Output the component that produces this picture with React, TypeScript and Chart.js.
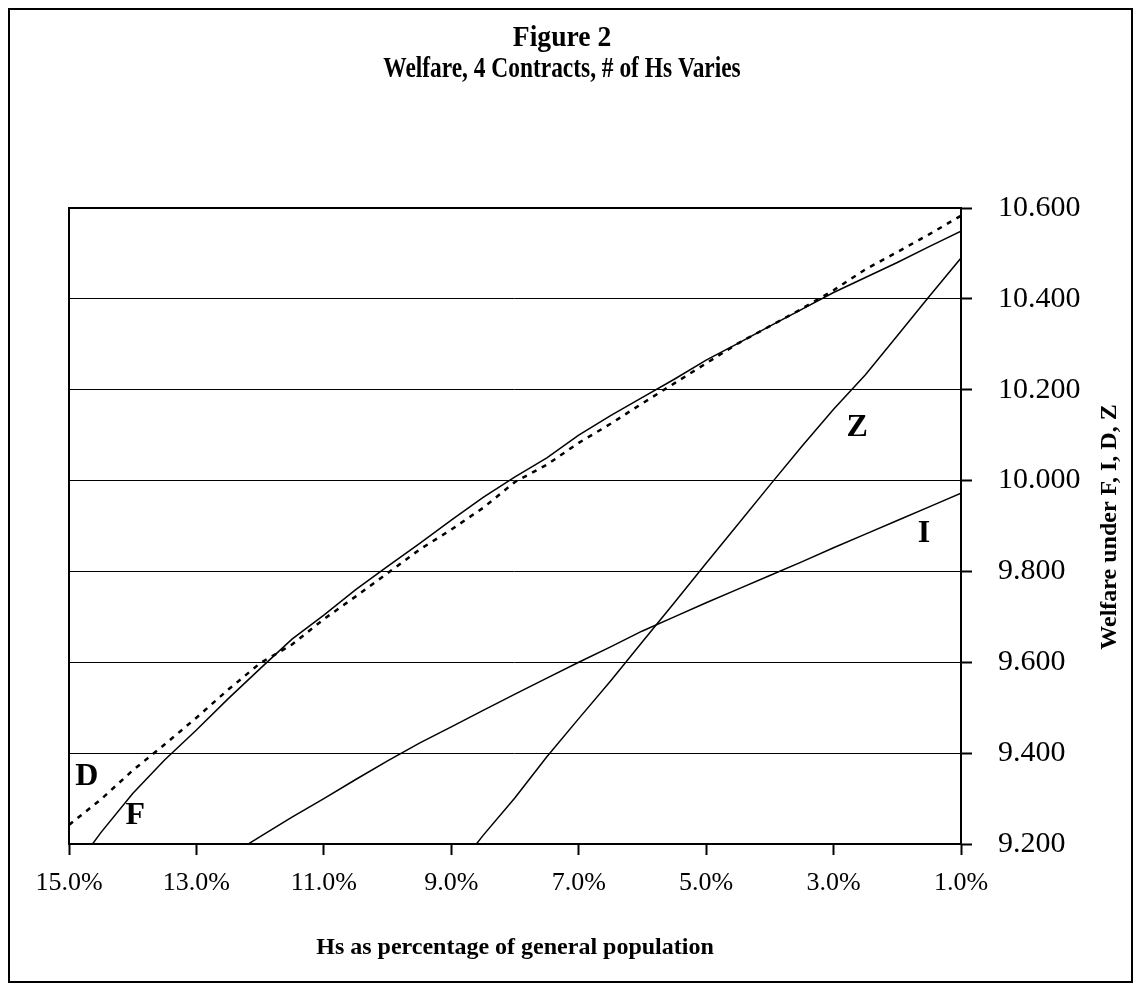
import React, { useEffect, useRef } from "react";
import { Chart, registerables } from "chart.js";

Chart.register(...registerables);

const FONT = '"Liberation Serif", "Times New Roman", serif';

// Hs as percentage of general population (x values)
const pct = [15, 14.5, 14, 13.5, 13, 12.5, 12, 11.5, 11, 10.5, 10, 9.5, 9, 8.5, 8, 7.5, 7, 6.5, 6, 5.5, 5, 4.5, 4, 3.5, 3, 2.5, 2, 1.5, 1];

// Welfare under F (solid)
const welfareF = [9.13, 9.225, 9.311, 9.385, 9.451, 9.52, 9.586, 9.651, 9.704, 9.76, 9.811, 9.861, 9.913, 9.963, 10.008, 10.05, 10.1, 10.143, 10.183, 10.223, 10.265, 10.302, 10.34, 10.377, 10.414, 10.447, 10.48, 10.515, 10.549];

// Welfare under D (dashed)
const welfareD = [9.242, 9.298, 9.362, 9.419, 9.478, 9.54, 9.598, 9.639, 9.695, 9.745, 9.796, 9.848, 9.892, 9.94, 9.997, 10.035, 10.083, 10.125, 10.17, 10.214, 10.258, 10.302, 10.34, 10.378, 10.419, 10.465, 10.503, 10.542, 10.583];

// Welfare under I (solid)
const welfareI = [8.955, 9.0, 9.043, 9.086, 9.13, 9.173, 9.216, 9.259, 9.3, 9.342, 9.383, 9.422, 9.458, 9.494, 9.53, 9.565, 9.6, 9.634, 9.669, 9.7, 9.731, 9.761, 9.791, 9.821, 9.852, 9.882, 9.912, 9.942, 9.972];

// Welfare under Z (solid)
const welfareZ = [null, null, null, null, null, null, null, null, null, null, null, null, 9.13, 9.219, 9.302, 9.392, 9.476, 9.559, 9.645, 9.731, 9.818, 9.904, 9.99, 10.075, 10.157, 10.233, 10.319, 10.405, 10.49];

// Curve labels and where they sit (data coordinates)
const curveLabels = ["D", "F", "Z", "I"];
const labelX = [14.72, 13.96, 2.63, 1.58];
const labelY = [9.347, 9.262, 10.116, 9.884];

const titleLines = ["Figure 2", "Welfare, 4 Contracts, # of Hs Varies"];
const xTitle = "Hs as percentage of general population";
const yTitle = "Welfare under F, I, D, Z";

function condensedText(ctx: any, text: string, x: number, y: number, sx: number) {
  ctx.save();
  ctx.translate(x, y);
  ctx.scale(sx, 1);
  ctx.fillText(text, 0, 0);
  ctx.restore();
}

const decor = {
  id: "decor",
  afterDatasetsDraw(chart: any) {
    const { ctx, chartArea: a, scales } = chart;
    ctx.save();
    ctx.strokeStyle = "#000";
    ctx.lineWidth = 2;
    ctx.strokeRect(a.left, a.top, a.right - a.left, a.bottom - a.top);
    ctx.fillStyle = "#000";
    ctx.font = `bold 32px ${FONT}`;
    ctx.textAlign = "center";
    ctx.textBaseline = "middle";
    curveLabels.forEach((t, i) => {
      ctx.fillText(t, scales.x.getPixelForValue(labelX[i]), scales.y.getPixelForValue(labelY[i]));
    });
    ctx.restore();
  },
  afterDraw(chart: any) {
    const { ctx } = chart;
    ctx.save();
    ctx.fillStyle = "#000";
    ctx.textAlign = "center";
    ctx.textBaseline = "middle";
    ctx.font = `bold 30px ${FONT}`;
    condensedText(ctx, titleLines[0], 552, 28, 0.92);
    condensedText(ctx, titleLines[1], 552, 59, 0.78);
    ctx.font = `bold 24px ${FONT}`;
    ctx.translate(1100, 517);
    ctx.rotate(-Math.PI / 2);
    ctx.fillText(yTitle, 0, 0);
    ctx.restore();
  },
};

export default function App() {
  const ref = useRef<HTMLCanvasElement>(null);
  useEffect(() => {
    const canvas = ref.current!;
    const mk = (label: string, data: (number | null)[], dash: number[], width: number) => ({
      label,
      data: pct.map((x, i) => ({ x, y: data[i] })),
      borderColor: "#000",
      backgroundColor: "#000",
      borderWidth: width,
      borderDash: dash,
      pointRadius: 0,
      tension: 0,
      fill: false,
      clip: 0,
      spanGaps: false,
    });
    const chart = new Chart(canvas, {
      type: "line",
      data: {
        datasets: [
          mk("F", welfareF, [], 1.5),
          mk("D", welfareD, [5, 6], 2.5),
          mk("I", welfareI, [], 1.5),
          mk("Z", welfareZ, [], 1.5),
        ] as any,
      },
      options: {
        responsive: false,
        animation: false,
        layout: { padding: { left: 59, top: 198, right: 0, bottom: 0 } },
        plugins: {
          legend: { display: false },
          title: { display: false },
          tooltip: { enabled: false },
        },
        scales: {
          x: {
            type: "linear",
            reverse: true,
            min: 1,
            max: 15,
            afterFit: (s: any) => {
              s.height = 137;
            },
            ticks: {
              stepSize: 2,
              autoSkip: false,
              maxRotation: 0,
              padding: 13,
              color: "#000",
              font: { family: FONT, size: 26 },
              callback: (v: any) => Number(v).toFixed(1) + "%",
            },
            grid: {
              drawOnChartArea: false,
              drawTicks: true,
              tickLength: 11,
              tickWidth: 2,
              tickColor: "#000",
              color: "#000",
            },
            border: { display: true, color: "#000", width: 2 },
            title: {
              display: true,
              text: xTitle,
              color: "#000",
              font: { family: FONT, size: 24, weight: "bold" },
              padding: { top: 0, bottom: 19 },
            },
          },
          y: {
            type: "linear",
            position: "right",
            min: 9.2,
            max: 10.6,
            afterFit: (s: any) => {
              s.width = 170;
            },
            ticks: {
              stepSize: 0.2,
              padding: 26,
              color: "#000",
              font: { family: FONT, size: 30 },
              callback: (v: any) => Number(v).toFixed(3),
            },
            grid: {
              color: "#000",
              lineWidth: 1,
              drawTicks: true,
              tickLength: 11,
              tickWidth: 2,
              tickColor: "#000",
            },
            border: { display: true, color: "#000", width: 2 },
          },
        },
      },
      plugins: [decor],
    });
    return () => chart.destroy();
  }, []);
  return (
    <div
      style={{
        width: 1125,
        height: 975,
        border: "2px solid #000",
        boxSizing: "border-box",
        background: "#fff",
      }}
    >
      <canvas ref={ref} width={1121} height={971} style={{ display: "block", width: 1121, height: 971 }} />
    </div>
  );
}
